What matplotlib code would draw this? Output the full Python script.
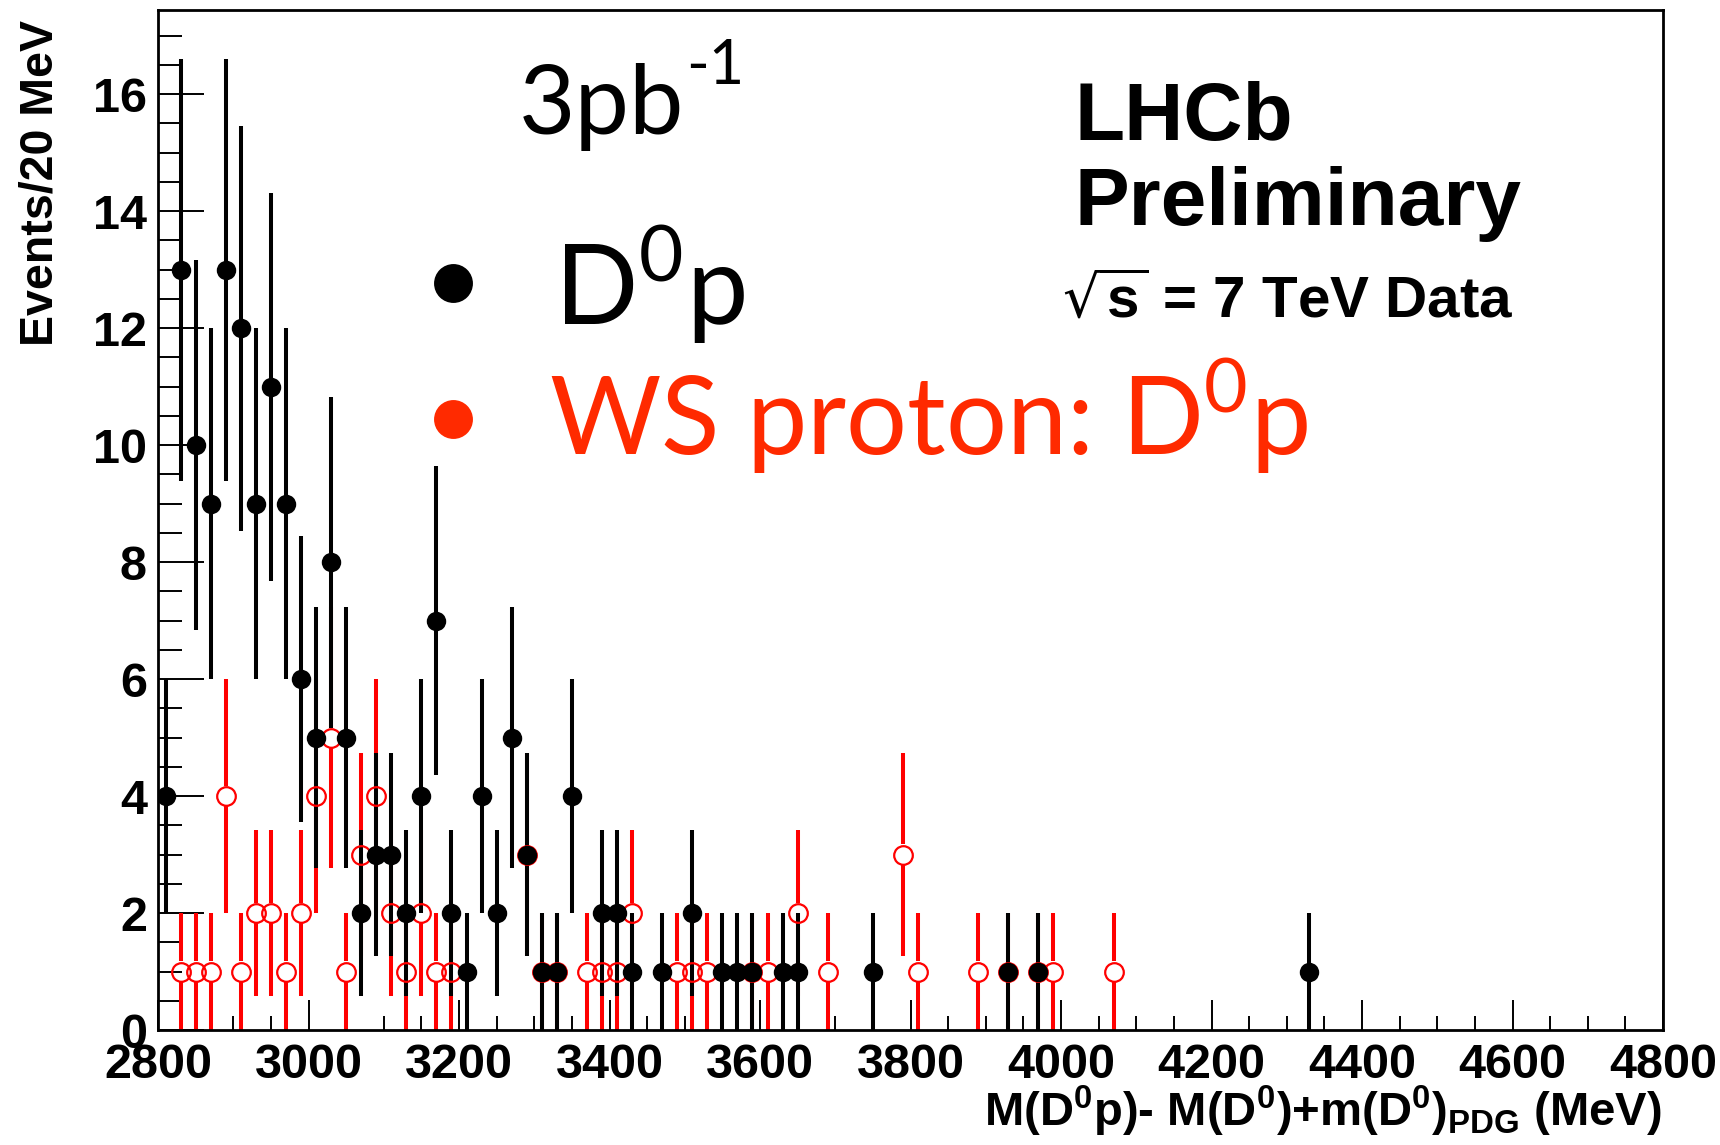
import numpy as np
import matplotlib
matplotlib.use("Agg")
import matplotlib.pyplot as plt
from matplotlib.lines import Line2D
from matplotlib.ticker import MultipleLocator, FixedLocator

# ---- data: bin centres (MeV, 20 MeV bins) and event counts ----
d0p_mass = [2810, 2830, 2850, 2870, 2890, 2910, 2930, 2950, 2970, 2990,
            3010, 3030, 3050, 3070, 3090, 3110, 3130, 3150, 3170, 3190,
            3210, 3230, 3250, 3270, 3290, 3310, 3330, 3350, 3390, 3410,
            3430, 3470, 3510, 3550, 3570, 3590, 3630, 3650, 3750, 3930,
            3970, 4330]
d0p_counts = [4, 13, 10, 9, 13, 12, 9, 11, 9, 6,
              5, 8, 5, 2, 3, 3, 2, 4, 7, 2,
              1, 4, 2, 5, 3, 1, 1, 4, 2, 2,
              1, 1, 2, 1, 1, 1, 1, 1, 1, 1,
              1, 1]

ws_mass = [2830, 2850, 2870, 2890, 2910, 2930, 2950, 2970, 2990, 3010,
           3030, 3050, 3070, 3090, 3110, 3130, 3150, 3170, 3190, 3290,
           3310, 3330, 3370, 3390, 3410, 3430, 3490, 3510, 3530, 3590,
           3610, 3650, 3690, 3790, 3810, 3890, 3930, 3970, 3990, 4070]
ws_counts = [1, 1, 1, 4, 1, 2, 2, 1, 2, 4,
             5, 1, 3, 4, 2, 1, 2, 1, 1, 3,
             1, 1, 1, 1, 1, 2, 1, 1, 1, 1,
             1, 2, 1, 3, 1, 1, 1, 1, 1, 1]

x_range = (2800, 4800)
y_range = (0, 17.44)
x_major_ticks = [2800, 3000, 3200, 3400, 3600, 3800, 4000, 4200, 4400, 4600, 4800]
y_major_ticks = [0, 2, 4, 6, 8, 10, 12, 14, 16]

# ---- styling ----
W, H = 1720, 1145
DPI = 100
BOLD = "Liberation Sans"
LEG_FONT = ["Lato", "Open Sans", "DejaVu Sans"]
DATA_RED = "#ff0000"
LEG_RED = "#ff2a00"
BAR_LW = 2.9
BLACK_MS = 14.0
RED_MS = 13.4
RED_MEW = 1.6

fig = plt.figure(figsize=(W / DPI, H / DPI), dpi=DPI)
fig.patch.set_facecolor("white")


def fx(px):
    return px / W


def fy(py):
    return 1 - py / H


left, right, top, bottom = 158, 1663, 10, 1030
ax = fig.add_axes([fx(left), fy(bottom), fx(right - left), (bottom - top) / H])
ax.set_xlim(*x_range)
ax.set_ylim(*y_range)

# half-size of an open ring in data units, so error bars stop at its edge
px_per_unit = ax.bbox.height / (y_range[1] - y_range[0])
ring_radius_px = (RED_MS + RED_MEW) / 2 * DPI / 72
ring_gap = ring_radius_px / px_per_unit


def draw_points(mass, counts, color, gap, marker_kw):
    x = np.asarray(mass, dtype=float)
    n = np.asarray(counts, dtype=float)
    err = np.sqrt(n)
    ax.vlines(x, n - err, n - gap, colors=color, linewidth=BAR_LW,
              capstyle="butt", zorder=2)
    ax.vlines(x, n + gap, n + err, colors=color, linewidth=BAR_LW,
              capstyle="butt", zorder=2)
    ax.plot(x, n, linestyle="none", zorder=3, **marker_kw)


# wrong-sign sample first, right-sign sample drawn over it
draw_points(ws_mass, ws_counts, DATA_RED, ring_gap,
            dict(marker="o", markersize=RED_MS, markerfacecolor="none",
                 markeredgecolor=DATA_RED, markeredgewidth=RED_MEW))
draw_points(d0p_mass, d0p_counts, "black", 0.0,
            dict(marker="o", markersize=BLACK_MS, markerfacecolor="black",
                 markeredgecolor="black", markeredgewidth=0))

# ---- axes, ticks ----
for side in ["left", "right", "top", "bottom"]:
    ax.spines[side].set_linewidth(2.0)
    ax.spines[side].set_color("black")

ax.xaxis.set_major_locator(FixedLocator(x_major_ticks))
ax.xaxis.set_minor_locator(MultipleLocator(50))
ax.yaxis.set_major_locator(FixedLocator(y_major_ticks))
ax.yaxis.set_minor_locator(MultipleLocator(0.5))

ax.tick_params(axis="x", which="major", direction="in", length=21.5, width=1.4,
               top=False, pad=9)
ax.tick_params(axis="x", which="minor", direction="in", length=10, width=1.4,
               top=False)
ax.tick_params(axis="y", which="major", direction="in", length=33, width=1.4,
               right=False, pad=8)
ax.tick_params(axis="y", which="minor", direction="in", length=17, width=1.4,
               right=False)

for lab in ax.get_xticklabels() + ax.get_yticklabels():
    lab.set_fontfamily(BOLD)
    lab.set_fontweight("bold")
    lab.set_fontsize(35)

# axis titles
fig.text(fx(41), fy(20), "Events/20 MeV", rotation=90, ha="center", va="top",
         family=BOLD, weight="bold", fontsize=33.5)
fig.text(fx(1662), fy(1126),
         r"M(D$^{\mathregular{0}}$p)- M(D$^{\mathregular{0}}$)+m(D$^{\mathregular{0}}$)"
         r"$_{\mathregular{PDG}}$ (MeV)",
         ha="right", va="baseline", family=BOLD, weight="bold", fontsize=34)

# ---- annotations ----
lumi = fig.text(fx(519), fy(134), "3pb", ha="left", va="baseline",
                family=LEG_FONT, fontsize=70, color="black")
renderer = fig.canvas.get_renderer()
lumi_box = lumi.get_window_extent(renderer)
fig.text(lumi_box.x1 / W + fx(2), fy(84), "-1", ha="left", va="baseline",
         family=LEG_FONT, fontsize=44, color="black")

fig.add_artist(Line2D([fx(453)], [fy(283)], marker="o", markersize=28,
                      color="black", markeredgewidth=0, transform=fig.transFigure))
fig.text(fx(554), fy(324), r"D$^{\mathregular{0}}$p", ha="left", va="baseline",
         family=LEG_FONT, fontsize=79, color="black")

fig.add_artist(Line2D([fx(453)], [fy(419)], marker="o", markersize=28,
                      color=LEG_RED, markeredgewidth=0, transform=fig.transFigure))
fig.text(fx(549), fy(455), r"WS proton: D$^{\mathregular{0}}$p", ha="left",
         va="baseline", family=LEG_FONT, fontsize=77.5, color=LEG_RED)

fig.text(fx(1074), fy(140), "LHCb", ha="left", va="baseline",
         family=BOLD, weight="bold", fontsize=59)
fig.text(fx(1074), fy(225), "Preliminary", ha="left", va="baseline",
         family=BOLD, weight="bold", fontsize=59)
fig.text(fx(1062), fy(318), r"$\sqrt{\mathregular{s}}$ = 7 TeV Data", ha="left",
         va="baseline", family=BOLD, weight="bold", fontsize=42)

fig.savefig("out.png", dpi=DPI, facecolor="white")
